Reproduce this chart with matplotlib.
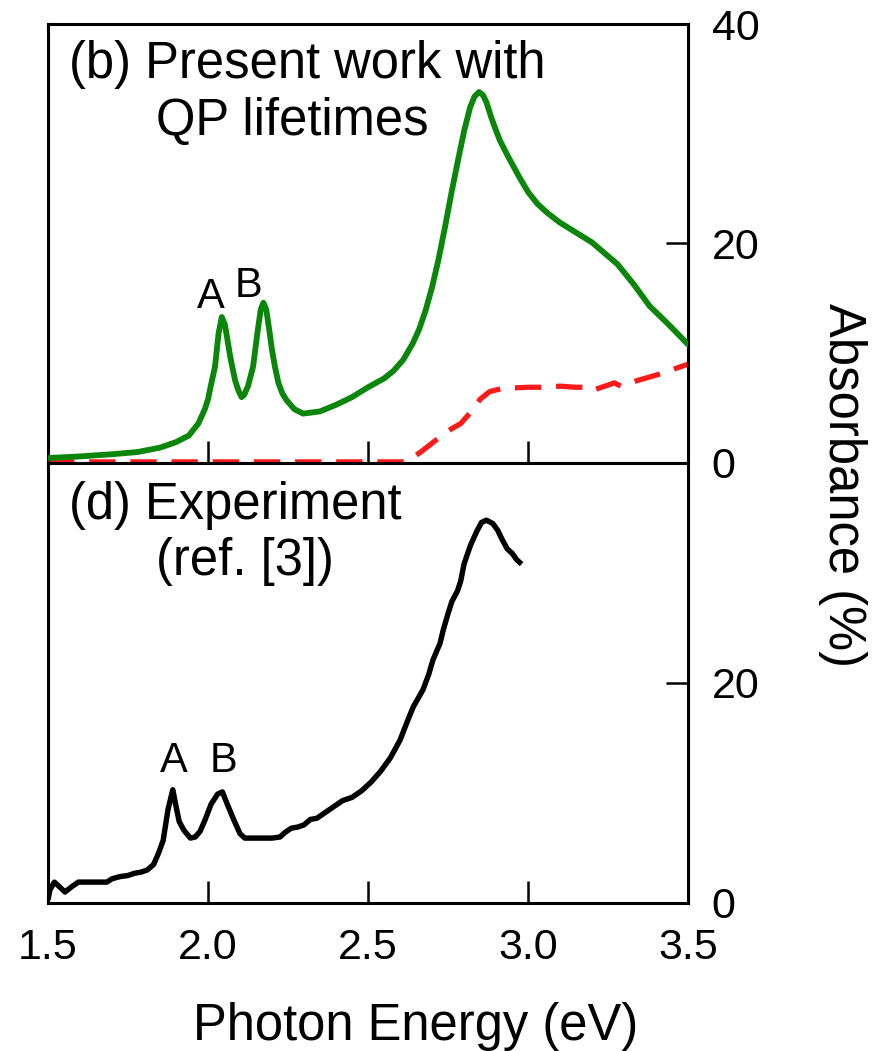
import matplotlib
matplotlib.use("Agg")
import matplotlib.pyplot as plt

plt.rcParams['font.family'] = ['Liberation Sans', 'DejaVu Sans']

# ---- data ----
# (b) theory with QP lifetimes (green solid)
qp_energy = [1.50, 1.60, 1.70, 1.78, 1.85, 1.90, 1.94, 1.97, 1.99, 2.00, 2.01, 2.022, 2.033,
             2.043, 2.053, 2.062, 2.07, 2.077, 2.085, 2.095, 2.105, 2.113, 2.125, 2.141,
             2.155, 2.165, 2.173, 2.182, 2.192, 2.20, 2.209, 2.22, 2.233, 2.246, 2.27, 2.297,
             2.35, 2.40, 2.45, 2.50, 2.55, 2.58, 2.61, 2.64, 2.66, 2.68, 2.70, 2.72, 2.74,
             2.76, 2.78, 2.80, 2.819, 2.833, 2.847, 2.86, 2.871, 2.885, 2.90, 2.912, 2.94,
             2.97, 3.00, 3.03, 3.06, 3.10, 3.15, 3.20, 3.24, 3.28, 3.33, 3.38, 3.44, 3.50]
qp_absorb = [0.45, 0.6, 0.8, 1.0, 1.4, 1.9, 2.5, 3.6, 4.9, 5.8, 7.2, 8.8, 11.8,
             13.3, 12.6, 11.0, 9.6, 8.6, 7.5, 6.6, 6.0, 6.2, 7.0, 8.8,
             12.0, 14.0, 14.6, 14.0, 12.0, 10.3, 8.8, 7.3, 6.3, 5.7, 4.9, 4.5,
             4.7, 5.3, 6.0, 6.9, 7.7, 8.4, 9.4, 10.9, 12.2, 13.9, 16.0, 18.5, 21.4,
             24.5, 27.4, 30.2, 32.4, 33.4, 33.8, 33.5, 32.8, 31.5, 30.3, 29.4, 27.8,
             26.2, 24.7, 23.6, 22.8, 21.9, 21.0, 20.1, 19.1, 18.1, 16.3, 14.3, 12.6, 10.8]

# (b) red dashed reference curve
red_energy = [1.50, 2.00, 2.62, 2.66, 2.70, 2.73, 2.76, 2.79, 2.82, 2.85, 2.88, 2.92, 3.00,
              3.05, 3.10, 3.15, 3.18, 3.20, 3.24, 3.27, 3.29, 3.31, 3.34, 3.40, 3.45, 3.50]
red_absorb = [0.1, 0.1, 0.1, 0.9, 1.8, 2.5, 3.1, 3.6, 4.6, 5.8, 6.5, 6.8, 6.9,
              6.9, 7.0, 6.9, 6.9, 6.6, 7.0, 7.3, 7.0, 7.2, 7.5, 8.0, 8.5, 9.0]

# (d) experiment (black)
exp_energy = [1.500, 1.506, 1.520, 1.535, 1.553, 1.575, 1.595, 1.640, 1.684, 1.700, 1.725,
              1.750, 1.770, 1.790, 1.810, 1.830, 1.845, 1.860, 1.875, 1.890, 1.900, 1.910,
              1.925, 1.945, 1.960, 1.975, 1.990, 2.010, 2.030, 2.045, 2.060, 2.080, 2.100,
              2.115, 2.150, 2.200, 2.225, 2.240, 2.260, 2.280, 2.300, 2.320, 2.340, 2.360,
              2.380, 2.400, 2.420, 2.450, 2.480, 2.510, 2.540, 2.570, 2.600, 2.620, 2.641,
              2.672, 2.690, 2.703, 2.725, 2.735, 2.750, 2.762, 2.780, 2.790, 2.800, 2.820,
              2.840, 2.855, 2.870, 2.890, 2.905, 2.920, 2.935, 2.950, 2.965, 2.980]
exp_absorb = [0.3, 1.2, 1.9, 1.5, 1.0, 1.5, 1.9, 1.9, 1.9, 2.2, 2.4,
              2.5, 2.7, 2.8, 3.0, 3.5, 4.5, 5.7, 8.5, 10.3, 8.8, 7.4,
              6.6, 5.9, 6.0, 6.5, 7.5, 9.0, 9.9, 10.1, 9.0, 7.6, 6.3,
              5.9, 5.9, 5.9, 6.0, 6.4, 6.8, 6.9, 7.1, 7.6, 7.7, 8.1,
              8.5, 8.9, 9.3, 9.6, 10.2, 11.0, 12.0, 13.2, 14.8, 16.3, 17.8,
              19.4, 20.8, 22.1, 23.6, 24.8, 26.3, 27.4, 28.4, 29.3, 30.8, 32.5,
              33.8, 34.6, 34.8, 34.5, 33.9, 33.0, 32.2, 31.8, 31.2, 30.8]

x_ticks = [1.5, 2.0, 2.5, 3.0, 3.5]
x_ticklabels = ["1.5", "2.0", "2.5", "3.0", "3.5"]
top_yticks = [0, 20, 40]
bot_yticks = [0, 20]

# ---- figure ----
W, H = 889, 1051
fig = plt.figure(figsize=(W / 100, H / 100), dpi=100)
L, R = 48 / W, 688 / W
y_top, y_mid, y_bot = 1 - 24 / H, 1 - 463 / H, 1 - 903 / H
ax1 = fig.add_axes([L, y_mid, R - L, y_top - y_mid])
ax2 = fig.add_axes([L, y_bot, R - L, y_mid - y_bot])

for ax in (ax1, ax2):
    ax.set_xlim(1.5, 3.5)
    ax.set_ylim(0, 40)
    for s in ax.spines.values():
        s.set_linewidth(2.2)
    ax.yaxis.tick_right()
    ax.tick_params(axis='both', direction='in', length=16, width=1.8, labelsize=31,
                   top=False, left=False, right=True, bottom=True)
    ax.tick_params(axis='x', pad=18)
    ax.tick_params(axis='y', pad=17)

ax1.set_xticks(x_ticks)
ax1.set_xticklabels([])
ax1.set_yticks(top_yticks)
ax1.set_yticklabels([str(v) for v in top_yticks])

ax2.set_xticks(x_ticks)
ax2.set_xticklabels(x_ticklabels)
ax2.set_yticks(bot_yticks)
ax2.set_yticklabels([str(v) for v in bot_yticks])

ax1.plot(red_energy, red_absorb, color='#ff1a1a', lw=3.8, linestyle=(0, (5.0, 2.8)),
         zorder=2)
ax1.plot(qp_energy, qp_absorb, color='#0a870a', lw=4.2, solid_joinstyle='round',
         solid_capstyle='round', zorder=3)
ax2.plot(exp_energy, exp_absorb, color='black', lw=3.9, solid_joinstyle='round',
         solid_capstyle='butt', zorder=3)

fs = 36.5
ax1.text(0.033, 0.877, "(b) Present work with", transform=ax1.transAxes,
         fontsize=fs, ha='left', va='baseline')
ax1.text(0.168, 0.747, "QP lifetimes", transform=ax1.transAxes,
         fontsize=fs, ha='left', va='baseline')
ax2.text(0.033, 0.873, "(d) Experiment", transform=ax2.transAxes,
         fontsize=fs, ha='left', va='baseline')
ax2.text(0.168, 0.745, "(ref. [3])", transform=ax2.transAxes,
         fontsize=fs, ha='left', va='baseline')

ax1.text(2.009, 14.1, "A", fontsize=30, ha='center', va='baseline')
ax1.text(2.128, 15.1, "B", fontsize=30, ha='center', va='baseline')
ax2.text(1.894, 11.9, "A", fontsize=30, ha='center', va='baseline')
ax2.text(2.047, 11.9, "B", fontsize=30, ha='center', va='baseline')

fig.text(416 / W, 11 / H, "Photon Energy (eV)", fontsize=36.5, ha='center', va='baseline')
fig.text(842 / W, 1 - 485 / H, "Absorbance (%)", fontsize=36.5, rotation=270,
         ha='center', va='center')

fig.savefig("out.png", dpi=100)
